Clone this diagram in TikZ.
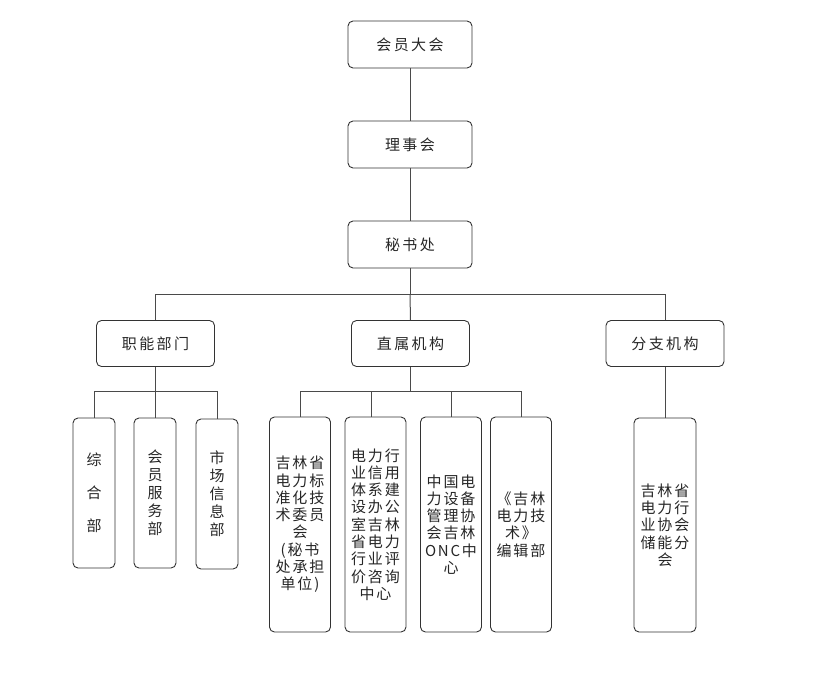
\documentclass[tikz,border=0pt]{standalone}
\usepackage{fontspec}
\newfontfamily\cjklabel[LetterSpace=16]{Noto Sans CJK SC}
\newfontfamily\cjkbox[LetterSpace=12]{Noto Sans CJK SC}
\definecolor{linec}{HTML}{4A4A4A}
\definecolor{boxc}{HTML}{333333}
\begin{document}
\begin{tikzpicture}[x=1pt,y=-1pt,
  box/.style={draw=boxc,line width=0.9pt,rounded corners=5pt,inner sep=0pt,align=center,text=black!85},
  wbox/.style={box,minimum width=124pt,minimum height=47pt,font=\cjklabel\fontsize{15}{18}\selectfont},
  mbox/.style={box,minimum width=118pt,minimum height=46pt,font=\cjklabel\fontsize{15}{18}\selectfont},
  sbox/.style={box,minimum width=42pt,minimum height=150pt,font=\cjkbox\fontsize{15}{18}\selectfont},
  tbox/.style={box,minimum width=61pt,minimum height=215pt,font=\cjkbox\fontsize{15}{17.3}\selectfont},
  conn/.style={draw=linec,line width=1pt}]
\useasboundingbox (0,0) rectangle (825,678);
\node[wbox] (a) at (410,44.5) {会员大会};
\node[wbox] (b) at (410,144.5) {理事会};
\node[wbox] (c) at (410,244.5) {秘书处};
\node[mbox] (f1) at (155.5,343.5) {职能部门};
\node[mbox] (f2) at (410.5,343.5) {直属机构};
\node[mbox] (f3) at (665,343.5) {分支机构};
\node[sbox,font=\cjkbox\fontsize{15}{33}\selectfont] (g1) at (94,493) {综\\合\\部};
\node[sbox] (g2) at (155,493) {会\\员\\服\\务\\部};
\node[sbox] (g3) at (217,494) {市\\场\\信\\息\\部};
\node[tbox] (h1) at (300,524.5) {吉林省\\电力标\\准化技\\术委员\\会\\(秘书\\处承担\\单位)};
\node[tbox] (h2) at (375.5,524.5) {电力行\\业信用\\体系建\\设办公\\室吉林\\省电力\\行业评\\价咨询\\中心};
\node[tbox] (h3) at (451,524.5) {中国电\\力设备\\管理协\\会吉林\\ONC中\\心};
\node[tbox] (h4) at (521,524.5) {《吉林\\电力技\\术》\\编辑部};
\node[tbox,minimum width=62pt,minimum height=214pt] (k) at (665,525) {吉林省\\电力行\\业协会\\储能分\\会};
% trunk
\draw[conn] (a) -- (b);
\draw[conn] (b) -- (c);
\path (c.south) ++(0,26) coordinate (bus);
\draw[conn] (c.south) -- (bus);
\draw[conn] (f1.north) |- (bus) -| (f3.north);
\draw[conn] (bus) -- (f2.north);
% functional departments
\path (f1.south) ++(0,25) coordinate (jb);
\draw[conn] (f1.south) -- (jb);
\draw[conn] (g1.north) |- (jb) -| (g3.north);
\draw[conn] (jb) -- (jb |- g2.north);
% direct institutions
\path (f2.south) ++(0,25) coordinate (zb);
\draw[conn] (f2.south) -- (zb);
\draw[conn] (h1.north) |- (zb) -| (h4.north);
\draw[conn] ([xshift=-4pt]h2.north) -- ([xshift=-4pt]h2.north |- zb);
\draw[conn] (h3.north) -- (h3.north |- zb);
% branch
\draw[conn] (f3.south) -- (k.north);
\end{tikzpicture}
\end{document}
